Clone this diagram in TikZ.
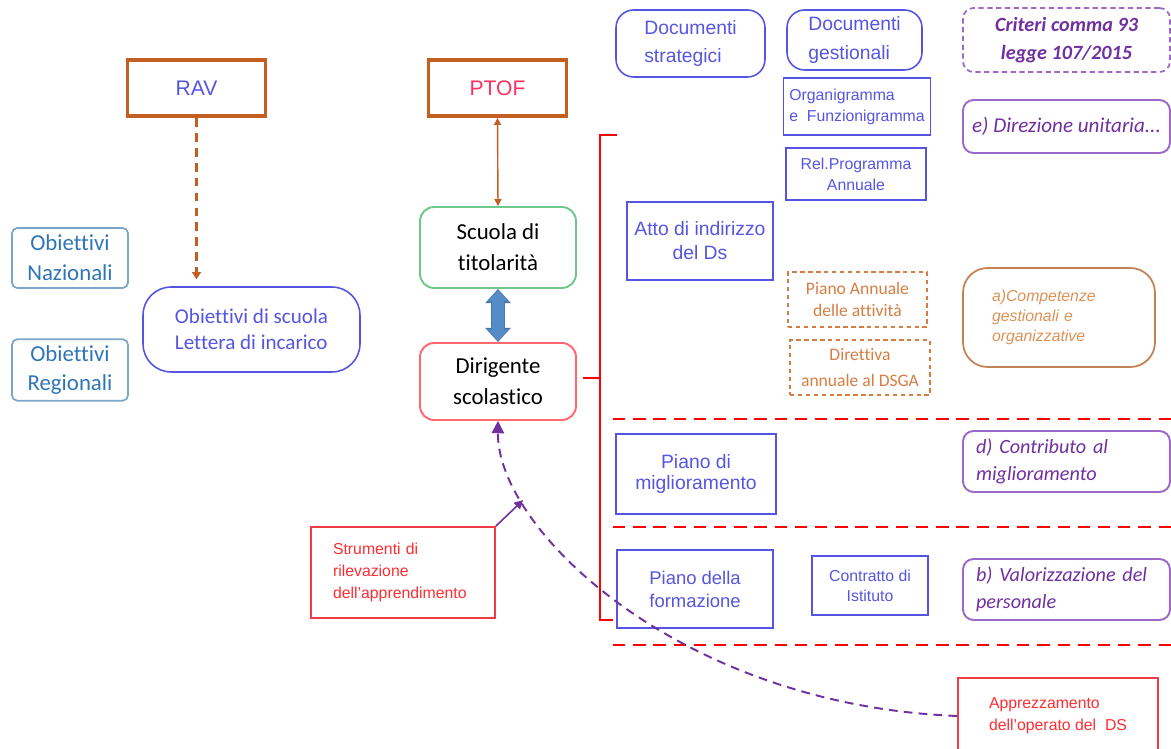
\documentclass[tikz,border=0pt]{standalone}
\usepackage{fontspec}
\setmainfont{Liberation Sans}
\newfontfamily\carlito{Carlito}[Ligatures=NoCommon]
\usetikzlibrary{arrows.meta}
\definecolor{docblue}{RGB}{85,85,225}
\definecolor{objblue}{RGB}{46,117,182}
\definecolor{objline}{RGB}{125,165,200}
\definecolor{brownline}{RGB}{195,95,35}
\definecolor{ptofred}{RGB}{250,50,95}
\definecolor{greenline}{RGB}{110,200,140}
\definecolor{dsred}{RGB}{255,105,110}
\definecolor{arrowblue}{RGB}{85,140,200}
\definecolor{critpurple}{RGB}{112,48,160}
\definecolor{critline}{RGB}{155,105,200}
\definecolor{dashorange}{RGB}{215,125,65}
\definecolor{compline}{RGB}{195,130,85}
\definecolor{comptext}{RGB}{220,145,85}
\definecolor{strumred}{RGB}{240,60,70}
\definecolor{strumtext}{RGB}{255,45,50}
\begin{document}
\begin{tikzpicture}[x=0.02cm, y=-0.02cm,
topbox/.style={rectangle, draw=brownline, line width=2.2pt, minimum width=2.76cm, minimum height=1.12cm, font=\fontsize{12}{14}\selectfont},
objbox/.style={rectangle, rounded corners=3pt, draw=objline, line width=1pt, text=objblue, minimum width=2.32cm, minimum height=1.2cm, align=center, font=\carlito\fontsize{13}{17}\selectfont},
schoolbox/.style={rectangle, rounded corners=8pt, line width=1.1pt, minimum width=3.12cm, align=center, font=\carlito\fontsize{13}{17.5}\selectfont},
docround/.style={rectangle, rounded corners=10pt, draw=docblue, line width=0.9pt, text=docblue, align=left, font=\fontsize{11}{16}\selectfont},
docrect/.style={rectangle, draw=docblue, line width=1pt, text=docblue, align=center},
critbox/.style={rectangle, rounded corners=6pt, draw=critline, line width=1pt, dash pattern=on 3pt off 2pt, text=critpurple, align=center, minimum width=4.14cm, minimum height=1.28cm, font=\carlito\bfseries\itshape\fontsize{11.5}{16}\selectfont},
critround/.style={rectangle, rounded corners=6pt, draw=critline, line width=1.1pt, text=critpurple, minimum width=4.14cm, font=\carlito\itshape\fontsize{11.5}{15.4}\selectfont},
orangedash/.style={rectangle, draw=dashorange, line width=1.1pt, dash pattern=on 2.5pt off 2pt, text=dashorange, align=center, minimum width=2.8cm, minimum height=1.1cm},
redrect/.style={rectangle, draw=strumred, line width=1pt, text=strumtext, font=\fontsize{9}{12.5}\selectfont},
sepline/.style={red, line width=1.7pt, dash pattern=on 7pt off 4.5pt},
bracket/.style={draw=red, line width=1.1pt},
]
\useasboundingbox (0,0) rectangle (1171,749);
%Nodes
\node[topbox, text=docblue]  (rav)      at (196.5,88) {RAV};
\node[topbox, text=ptofred]  (ptof)     at (497.5,88) {PTOF};
\node[objbox]                (naz)      at (70,258) {Obiettivi\\Nazionali};
\node[objbox]                (reg)      at (70,370) {Obiettivi\\Regionali};
\node[docround, minimum width=4.34cm, minimum height=1.7cm, rounded corners=16pt, font=\carlito\fontsize{12}{15}\selectfont] (obsc) at (251.5,329.5) {Obiettivi di scuola\\Lettera di incarico};
\node[schoolbox, draw=greenline, minimum height=1.62cm] (scuola) at (498,247.5) {Scuola di\\titolarità};
\node[schoolbox, draw=dsred, minimum height=1.54cm]     (dir)    at (498,381.5) {Dirigente\\scolastico};

\node[docround, minimum width=2.98cm, minimum height=1.34cm] (strat) at (690.5,43.5) {Documenti\\strategici};
\node[docround, minimum width=2.7cm, minimum height=1.2cm]   (gest)  at (854.5,40) {Documenti\\gestionali};
\node[critbox]               (crit)     at (1066.5,40) {Criteri comma 93\\legge 107/2015};
\node[docrect, minimum width=2.84cm, minimum height=1.14cm, align=left, font=\fontsize{9}{12}\selectfont] (organ) at (857,106.5) {Organigramma\\e\ \ Funzionigramma};
\node[docrect, minimum width=2.8cm, minimum height=1.04cm, font=\fontsize{9}{12}\selectfont] (relprog) at (856,174) {Rel.Programma\\Annuale};
\node[critround, minimum height=1.06cm, font=\carlito\itshape\fontsize{12}{15}\selectfont] (dirun) at (1066.5,126.5) {e) Direzione unitaria...};

\node[docrect, minimum width=2.92cm, minimum height=1.56cm, font=\fontsize{11}{13.7}\selectfont] (atto) at (700,241) {Atto di indirizzo\\del Ds};
\node[orangedash, minimum width=2.78cm, font=\carlito\fontsize{10}{13}\selectfont] (pianoann) at (857.5,299.5) {Piano Annuale\\delle attività};
\node[orangedash, font=\carlito\fontsize{10}{14.5}\selectfont] (dirett) at (860,367.5) {Direttiva\\annuale al DSGA};
\node[rectangle, rounded corners=14pt, draw=compline, line width=1pt, text=comptext, minimum height=1.98cm, inner xsep=0.58cm, text width=2.68cm, align=left, font=\itshape\fontsize{9}{11.5}\selectfont] (comp) at (1059,317.5) {a)Competenze\\gestionali e\\organizzative};

\node[docrect, minimum width=3.2cm, minimum height=1.6cm, font=\fontsize{11}{12.5}\selectfont] (miglior) at (696,474) {Piano di\\miglioramento};
\node[critround, minimum height=1.22cm, inner xsep=0.26cm, text width=3.62cm, align=left] (contrib) at (1066.5,461.5) {d) Contributo al\\miglioramento};
\node[docrect, minimum width=3.12cm, minimum height=1.56cm, font=\fontsize{10.5}{13}\selectfont] (formaz) at (695,589) {Piano della\\formazione};
\node[docrect, minimum width=2.32cm, minimum height=1.18cm, font=\fontsize{9}{11.5}\selectfont] (contratto) at (870,585.5) {Contratto di\\Istituto};
\node[critround, minimum height=1.22cm, inner xsep=0.26cm, text width=3.62cm, align=left] (valor) at (1066.5,589.5) {b) Valorizzazione del\\personale};

\node[redrect, minimum height=1.82cm, inner xsep=0.44cm, text width=2.8cm, align=left] (strum) at (403,572.5) {Strumenti di\\rilevazione\\dell'apprendimento};
\node[redrect, minimum width=4cm, minimum height=1.52cm, align=left] (appr) at (1058,716) {Apprezzamento\\dell'operato del\ \ DS};

%Lines
\draw[brownline, line width=1.3pt, dash pattern=on 5pt off 3.5pt, -{Triangle[width=5pt,length=4pt]}, shorten >=0.14cm] (rav.south) -- (rav.south |- obsc.north);
\draw[brownline, line width=0.8pt, {Triangle[width=4pt,length=4pt]}-{Triangle[width=4pt,length=4pt]}] (ptof.south) -- (scuola.north);
\draw[arrowblue!85!black, line width=8.4pt, {Triangle[width=14pt,length=8pt]}-{Triangle[width=14pt,length=8pt]}] (scuola.south) -- (dir.north);
\draw[arrowblue, line width=6.4pt, {Triangle[width=11.5pt,length=6.5pt]}-{Triangle[width=11.5pt,length=6.5pt]}, shorten <=0.6pt, shorten >=0.6pt] (scuola.south) -- (dir.north);

%Bracket
\coordinate (brtop) at (600,135);
\coordinate (brbot) at (600,620);
\coordinate (brmid) at (583,378);
\draw[bracket] (617,135) -- (brtop) -- (brbot) -- (613,620) (brmid) -- (brmid -| brtop);

%Separators
\draw[sepline] (613,419) -- (1171,419);
\draw[sepline] (613,527) -- (1171,527);
\draw[sepline] (613,645) -- (1171,645);

\draw[critpurple, line width=1.1pt, dash pattern=on 5pt off 3.5pt, -{Triangle[width=7pt,length=7pt]}] (appr.west) .. controls (680,705) and (497,530) .. (dir.south) coordinate[pos=0.78] (hit);
\draw[critpurple, line width=0.9pt, -{Triangle[width=5pt,length=5pt]}] (strum.north east) -- (hit);
\end{tikzpicture}
\end{document}
